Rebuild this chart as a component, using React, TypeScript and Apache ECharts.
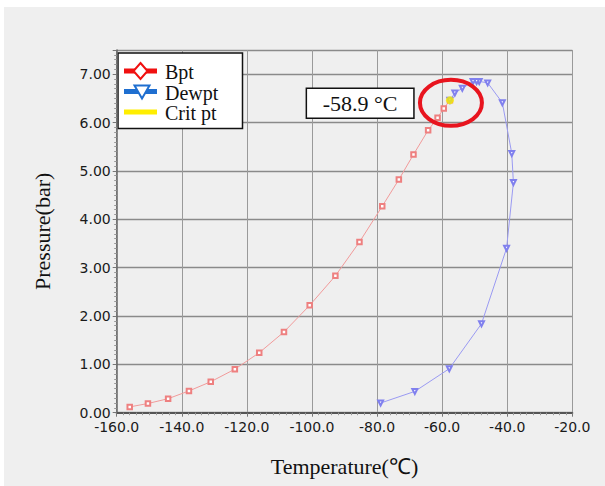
import React, { useEffect, useRef } from "react";
import * as echarts from "echarts";

// Bubble point curve (Bpt)
const bptTemp = [-156.0, -150.4, -144.2, -137.8, -131.1, -123.7, -116.2, -108.6, -100.7, -92.8, -85.4, -78.4, -73.3, -68.8, -64.3, -61.4, -59.5, -57.6];
const bptPress = [0.12, 0.19, 0.29, 0.45, 0.64, 0.9, 1.24, 1.67, 2.22, 2.83, 3.53, 4.27, 4.82, 5.34, 5.84, 6.1, 6.29, 6.46];
// Dew point curve (Dewpt)
const dewTemp = [-78.9, -68.4, -57.8, -47.9, -40.2, -38.1, -38.6, -41.5, -46.0, -48.6, -49.4, -50.5, -53.8, -56.1, -57.6];
const dewPress = [0.2, 0.44, 0.91, 1.84, 3.4, 4.76, 5.36, 6.41, 6.82, 6.85, 6.85, 6.85, 6.71, 6.61, 6.46];
// Critical point
const critTemp = [-57.6];
const critPress = [6.46];
const critLabel = "-58.9 °C";

const legendNames = ["Bpt", "Dewpt", "Crit pt"];
const xTitle = "Temperature(℃)";
const yTitle = "Pressure(bar)";

const zip = (a: number[], b: number[]) => a.map((v, i) => [v, b[i]]);

const SERIF = "'Liberation Serif', 'Times New Roman', serif";
const SANS = "'DejaVu Sans', sans-serif";

export default function App() {
  const ref = useRef<HTMLDivElement>(null);
  useEffect(() => {
    if (!ref.current) return;
    const chart = echarts.init(ref.current, undefined, { renderer: "svg" });
    chart.setOption({
      animation: false,
      backgroundColor: "#efefef",
      grid: { left: 112.7, right: 32.7, top: 43, bottom: 73.3 },
      xAxis: {
        type: "value",
        min: -160,
        max: -20,
        interval: 20,
        name: xTitle,
        nameLocation: "middle",
        nameGap: 43,
        nameTextStyle: { fontFamily: SERIF, fontSize: 22, color: "#111" },
        axisLine: { show: true, onZero: false, lineStyle: { color: "#555", width: 2 } },
        axisTick: { show: true, length: 4, lineStyle: { color: "#777" } },
        minorTick: { show: true, splitNumber: 10, length: 2.5, lineStyle: { color: "#999" } },
        splitLine: { show: true, lineStyle: { color: "#9a9a9a", width: 1 } },
        axisLabel: {
          fontFamily: SANS,
          fontSize: 14,
          color: "#1a1a1a",
          margin: 7,
          formatter: (v: number) => v.toFixed(1),
        },
      },
      yAxis: {
        type: "value",
        min: 0,
        max: 7.5,
        interval: 1,
        name: yTitle,
        nameLocation: "middle",
        nameGap: 63,
        nameTextStyle: { fontFamily: SERIF, fontSize: 22, color: "#111" },
        axisLine: { show: true, lineStyle: { color: "#666", width: 1.5 } },
        axisTick: { show: true, length: 4, lineStyle: { color: "#777" } },
        minorTick: { show: true, splitNumber: 10, length: 2.5, lineStyle: { color: "#999" } },
        splitLine: { show: true, lineStyle: { color: "#8a8a8a", width: 1.3 } },
        axisLabel: {
          fontFamily: SANS,
          fontSize: 14,
          color: "#1a1a1a",
          margin: 6,
          showMaxLabel: false,
          formatter: (v: number) => v.toFixed(2),
        },
      },
      series: [
        {
          name: legendNames[0],
          type: "line",
          data: zip(bptTemp, bptPress),
          symbol: "emptyRect",
          symbolSize: 4.5,
          lineStyle: { color: "#f19a9a", width: 1 },
          itemStyle: { color: "#ee8080", borderWidth: 1 },
          z: 3,
        },
        {
          name: legendNames[1],
          type: "line",
          data: zip(dewTemp, dewPress),
          symbol: "emptyTriangle",
          symbolRotate: 180,
          symbolSize: 5,
          lineStyle: { color: "#9a9af2", width: 1 },
          itemStyle: { color: "#8080ee", borderWidth: 1 },
          z: 3,
        },
        {
          name: legendNames[2],
          type: "scatter",
          data: zip(critTemp, critPress),
          symbol: "circle",
          symbolSize: 8,
          itemStyle: { color: "#f5f000" },
          z: 5,
        },
      ],
    });

    const [cx, cy] = chart.convertToPixel({ gridIndex: 0 }, [critTemp[0], critPress[0]]) as number[];
    const lx = 114;
    const ly = 46;
    const rowY = [64, 84.5, 105];
    chart.setOption({
      graphic: [
        {
          type: "ellipse",
          shape: { cx: cx + 1, cy: cy + 2.5, rx: 31, ry: 23 },
          style: { fill: "none", stroke: "#e8141e", lineWidth: 4 },
          z: 10,
        },
        {
          type: "rect",
          shape: { x: cx - 143.6, y: cy - 12, width: 107.6, height: 30 },
          style: { fill: "#ffffff", stroke: "#111", lineWidth: 1.5 },
          z: 10,
        },
        {
          type: "text",
          x: cx - 143.6 + 53.8,
          y: cy + 3,
          style: {
            text: critLabel,
            fontFamily: SERIF,
            fontSize: 22,
            fill: "#111",
            align: "center",
            verticalAlign: "middle",
          },
          z: 11,
        },
        {
          type: "group",
          z: 10,
          children: [
            {
              type: "rect",
              shape: { x: lx, y: ly, width: 124.5, height: 75.5 },
              style: { fill: "#ffffff", stroke: "#111", lineWidth: 1.5 },
            },
            {
              type: "line",
              shape: { x1: 120, y1: rowY[0], x2: 153, y2: rowY[0] },
              style: { stroke: "#f01010", lineWidth: 5 },
            },
            {
              type: "polygon",
              shape: { points: [[136.5, rowY[0] - 8], [143.5, rowY[0]], [136.5, rowY[0] + 8], [129.5, rowY[0]]] },
              style: { fill: "#ffffff", stroke: "#f01010", lineWidth: 2 },
            },
            {
              type: "line",
              shape: { x1: 120, y1: rowY[1], x2: 153, y2: rowY[1] },
              style: { stroke: "#1f6fd0", lineWidth: 5 },
            },
            {
              type: "polygon",
              shape: { points: [[130.5, rowY[1] - 6], [145.5, rowY[1] - 6], [138, rowY[1] + 7]] },
              style: { fill: "#ffffff", stroke: "#1f6fd0", lineWidth: 2 },
            },
            {
              type: "line",
              shape: { x1: 120, y1: rowY[2], x2: 153, y2: rowY[2] },
              style: { stroke: "#ffee00", lineWidth: 5 },
            },
            ...legendNames.map((n, i) => ({
              type: "text",
              x: 161,
              y: rowY[i] + 1,
              style: {
                text: n,
                fontFamily: SERIF,
                fontSize: 20,
                lineHeight: 19,
                fill: "#111",
                verticalAlign: "middle",
              },
            })),
          ],
        },
      ],
    });
    return () => chart.dispose();
  }, []);

  return (
    <div style={{ position: "fixed", left: 0, top: 0, width: 605, height: 486, background: "#ffffff" }}>
      <div ref={ref} style={{ position: "absolute", left: 4, top: 7, width: 601, height: 479 }} />
    </div>
  );
}
